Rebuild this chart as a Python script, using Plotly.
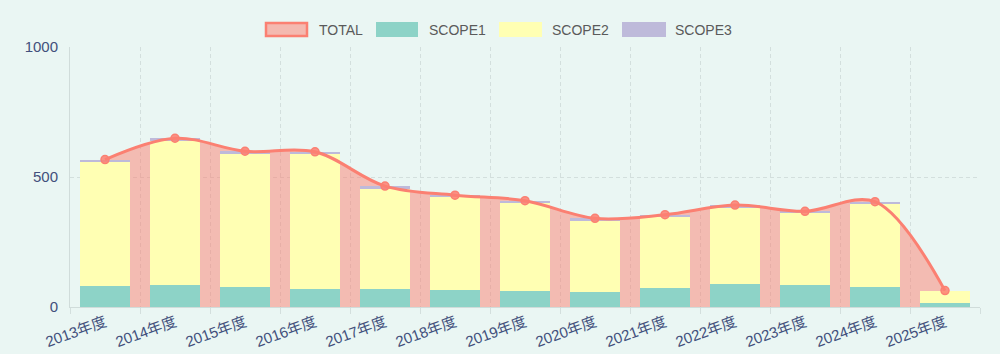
import plotly.graph_objects as go

categories = ["2013年度", "2014年度", "2015年度", "2016年度", "2017年度", "2018年度", "2019年度",
              "2020年度", "2021年度", "2022年度", "2023年度", "2024年度", "2025年度"]
scope1 = [80, 86, 78, 68, 69, 67, 62, 57, 74, 87, 83, 78, 14]
scope2 = [476, 552, 512, 519, 385, 355, 338, 275, 272, 295, 277, 319, 46]
scope3 = [11, 11, 9, 10, 11, 8, 9, 9, 9, 10, 8, 8, 0]
total = [567, 649, 599, 597, 465, 430, 409, 341, 355, 392, 368, 405, 63]
y_ticks = [0, 500, 1000]
legend_names = ["TOTAL", "SCOPE1", "SCOPE2", "SCOPE3"]

BG = "#eaf6f3"
LINE = "#fb8072"
FILL = "rgba(251,128,114,0.5)"
C1, C2, C3 = "#8dd3c7", "#ffffb3", "#bebada"
GRID = "#d3dfdd"
AXIS = "#d0dcda"
TICKC = "#42507c"
FONT = "Liberation Sans, Arial, Noto Sans CJK JP, sans-serif"

fig = go.Figure()
# area under TOTAL (base subplot, below bars)
fig.add_trace(go.Scatter(x=categories, y=total, mode="lines", fill="tozeroy",
                         fillcolor=FILL, line=dict(width=0, shape="spline", smoothing=1),
                         showlegend=False, hoverinfo="skip", xaxis="x", yaxis="y"))
# stacked bars (overlay subplot)
for vals, col, nm in [(scope1, C1, "SCOPE1"), (scope2, C2, "SCOPE2"), (scope3, C3, "SCOPE3")]:
    fig.add_trace(go.Bar(x=categories, y=vals, name=nm, marker=dict(color=col, line=dict(width=0)),
                         showlegend=False, xaxis="x2", yaxis="y2"))
# TOTAL line
fig.add_trace(go.Scatter(x=categories, y=total, name="TOTAL", mode="lines+markers",
                         line=dict(color=LINE, width=3, shape="spline", smoothing=1),
                         marker=dict(size=8, color="rgba(251,128,114,0.85)", line=dict(color=LINE, width=1.5)),
                         showlegend=False, xaxis="x2", yaxis="y2"))

# custom legend (ECharts style rectangles)
L, T, W, H = 70, 47, 910, 260
def px(x):
    return (x - L) / W
def py(y):
    return (T + H - y) / H

legend_icons = [(265, 308), (376, 418), (499, 542), (622, 666)]
legend_text_x = [317, 427, 550, 673]
legend_fill = ["rgba(244,185,176,1)", C1, C2, C3]
shapes = []
annotations = []
for i, nm in enumerate(legend_names):
    x0, x1 = legend_icons[i]
    if nm == "TOTAL":
        shapes.append(dict(type="rect", xref="paper", yref="paper", x0=px(x0 + 1), x1=px(x1 - 1),
                           y0=py(36), y1=py(23), fillcolor=legend_fill[i], line=dict(color=LINE, width=2.5)))
    else:
        shapes.append(dict(type="rect", xref="paper", yref="paper", x0=px(x0), x1=px(x1),
                           y0=py(37), y1=py(22), fillcolor=legend_fill[i], line=dict(width=0)))
    annotations.append(dict(text=nm, xref="paper", yref="paper", x=px(legend_text_x[i]), y=py(29.5),
                            xanchor="left", yanchor="middle", showarrow=False,
                            font=dict(size=14, color="#5a5a5a", family=FONT)))

fig.update_layout(
    width=1000, height=354,
    margin=dict(l=L, r=1000 - L - W, t=T, b=354 - T - H),
    paper_bgcolor=BG, plot_bgcolor=BG,
    barmode="stack", bargap=0.286,
    font=dict(family=FONT, size=14, color=TICKC),
    showlegend=False,
    shapes=shapes, annotations=annotations,
    xaxis=dict(type="category", categoryorder="array", categoryarray=categories,
               range=[-0.5, len(categories) - 0.5], tickson="boundaries", automargin=False,
               showgrid=True, gridcolor=GRID, griddash="4px,3px", gridwidth=1,
               ticks="outside", ticklen=6, tickcolor=GRID,
               showline=True, linecolor=AXIS, linewidth=1,
               tickangle=-20, tickfont=dict(size=15, color=TICKC), zeroline=False),
    yaxis=dict(range=[0, 1000], tickvals=y_ticks, showgrid=True, gridcolor=GRID, griddash="4px,3px",
               showline=True, linecolor=AXIS, zeroline=False, ticks="", automargin=False,
               ticklabelstandoff=8, tickfont=dict(size=15, color=TICKC)),
    xaxis2=dict(type="category", categoryorder="array", categoryarray=categories,
                range=[-0.5, len(categories) - 0.5], overlaying="x", visible=False),
    yaxis2=dict(range=[0, 1000], overlaying="y", visible=False),
)

fig.write_html("out.html")
